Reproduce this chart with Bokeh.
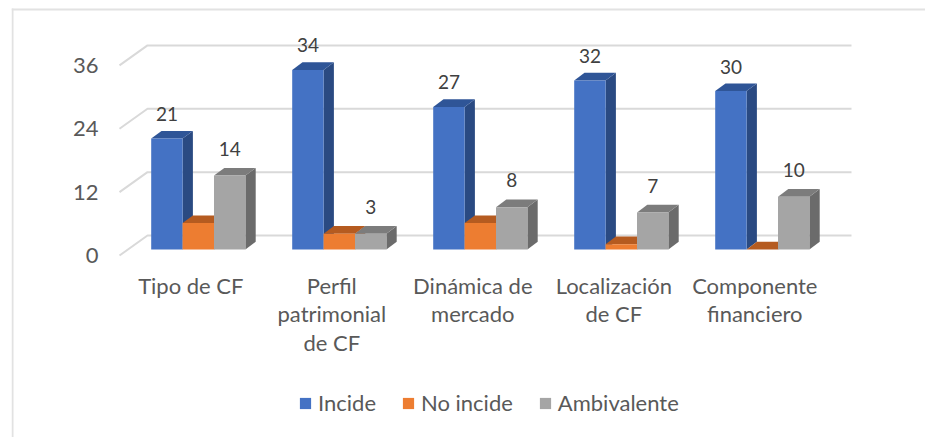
from bokeh.core.properties import value
from bokeh.embed import file_html
from bokeh.models import BoxAnnotation, ColumnDataSource, FixedTicker, Legend, LegendItem, LinearAxis, Range1d
from bokeh.plotting import figure
from bokeh.resources import INLINE

categories = ["Tipo de CF", "Perfil\npatrimonial\nde CF", "Dinámica de\nmercado", "Localización\nde CF", "Componente\nfinanciero"]
incide = [21, 34, 27, 32, 30]
no_incide = [5, 3, 5, 1, 0]
ambivalente = [14, 3, 8, 7, 10]
y_ticks = [0, 12, 24, 36]

FONT = "Lato"
GRID = "#D9D9D9"
PX_Y = 5.28          # pixels per value unit
PX_X = 141.0         # pixels per category
W = 925
H = 437
LEFT = 11            # frame left inside the figure
X0 = 197.8           # x of category 0 in figure pixels
Y0 = 255             # y of value 0 in figure pixels (front plane)

# 3D projection, in data units
BAR_W = 31.4 / PX_X
BAR_DX = 10.3 / PX_X
BAR_DY = 7.7 / PX_Y
BASE = 6.0 / PX_Y
WALL_DX = 28.0 / PX_X
WALL_DY = 20.0 / PX_Y
GRID_L = (119.0 - X0) / PX_X
GRID_R = (851.0 - X0) / PX_X

p = figure(
    width=W, height=H, output_backend="svg", toolbar_location=None,
    x_range=Range1d((LEFT - X0) / PX_X, (W - X0) / PX_X),
    y_range=Range1d(-(H - Y0) / PX_Y, Y0 / PX_Y),
    x_axis_location=None, y_axis_location=None,
    min_border_left=LEFT, min_border_right=0, min_border_top=0, min_border_bottom=0,
    outline_line_color=None, background_fill_color="white", border_fill_color="white",
)
p.grid.visible = False

yaxis = LinearAxis(ticker=FixedTicker(ticks=y_ticks))
yaxis.axis_line_color = None
yaxis.major_tick_line_color = None
yaxis.minor_tick_line_color = None
yaxis.major_tick_out = 0
yaxis.major_tick_in = 0
yaxis.major_label_standoff = LEFT - 98   # labels sit inside the frame, right of the border
yaxis.major_label_text_font = FONT
yaxis.major_label_text_font_size = "22px"
yaxis.major_label_text_color = "#595959"
p.add_layout(yaxis, "left")

# chart border (left and top only); screen units run from the frame's bottom-left corner
p.add_layout(BoxAnnotation(left=0, right=2, top=H - 8, bottom=0, left_units="screen", right_units="screen",
                           top_units="screen", bottom_units="screen", fill_color="#E2E2E2", fill_alpha=1, line_color=None))
p.add_layout(BoxAnnotation(left=0, right=W - LEFT, top=H - 8, bottom=H - 10, left_units="screen", right_units="screen",
                           top_units="screen", bottom_units="screen", fill_color="#E2E2E2", fill_alpha=1, line_color=None))

# walls' gridlines
p.multi_line(
    xs=[[GRID_L, GRID_L + WALL_DX, GRID_R] for _ in y_ticks],
    ys=[[t, t + WALL_DY, t + WALL_DY] for t in y_ticks],
    line_color=GRID, line_width=2,
)

series = [
    ("Incide", incide, -1, "#4472C4", "#2A4A82", "#2F5597", -24.5),
    ("No incide", no_incide, 0, "#ED7D31", "#A9561F", "#B55B20", 0),
    ("Ambivalente", ambivalente, 1, "#A5A5A5", "#6B6B6B", "#7C7C7C", -27),
]
items = []
for name, vals, slot, front, side, top, lift in series:
    xl = [i + (slot - 0.5) * BAR_W for i in range(len(vals))]
    xr = [x + BAR_W for x in xl]
    tops = [v + BASE for v in vals]
    p.patches(
        xs=[[r, r + BAR_DX, r + BAR_DX, r] for r in xr],
        ys=[[BASE, BASE + BAR_DY, t + BAR_DY, t] for t in tops],
        fill_color=side, line_color=None,
    )
    p.patches(
        xs=[[l, l + BAR_DX, r + BAR_DX, r] for l, r in zip(xl, xr)],
        ys=[[t, t + BAR_DY, t + BAR_DY, t] for t in tops],
        fill_color=top, line_color=None,
    )
    bar = p.vbar(x=[(l + r) / 2 for l, r in zip(xl, xr)], width=BAR_W, bottom=BASE, top=tops,
                 fill_color=front, line_color=None)
    items.append(LegendItem(label=name, renderers=[bar]))
    if name != "No incide":
        src = ColumnDataSource(dict(x=[(l + r) / 2 for l, r in zip(xl, xr)], y=tops, t=[str(v) for v in vals]))
        p.text(x="x", y="y", text="t", source=src, text_align="center", text_baseline="middle",
               y_offset=lift, text_font=value(FONT), text_font_size="19px", text_color="#404040")

p.text(x=list(range(len(categories))), y=[0] * len(categories), text=categories,
       x_offset=-7.5, y_offset=16, text_align="center", text_baseline="top",
       text_font=value(FONT), text_font_size="22px", text_color="#595959", text_line_height=1.06)

legend = Legend(items=items, orientation="horizontal", location=(287, 21), padding=0, margin=0, spacing=25,
                label_standoff=6, glyph_width=14, glyph_height=14, border_line_color=None,
                background_fill_alpha=0, label_text_font=FONT, label_text_font_size="22px",
                label_text_color="#595959")
p.add_layout(legend)

open("out.html", "w").write(file_html(p, INLINE))
